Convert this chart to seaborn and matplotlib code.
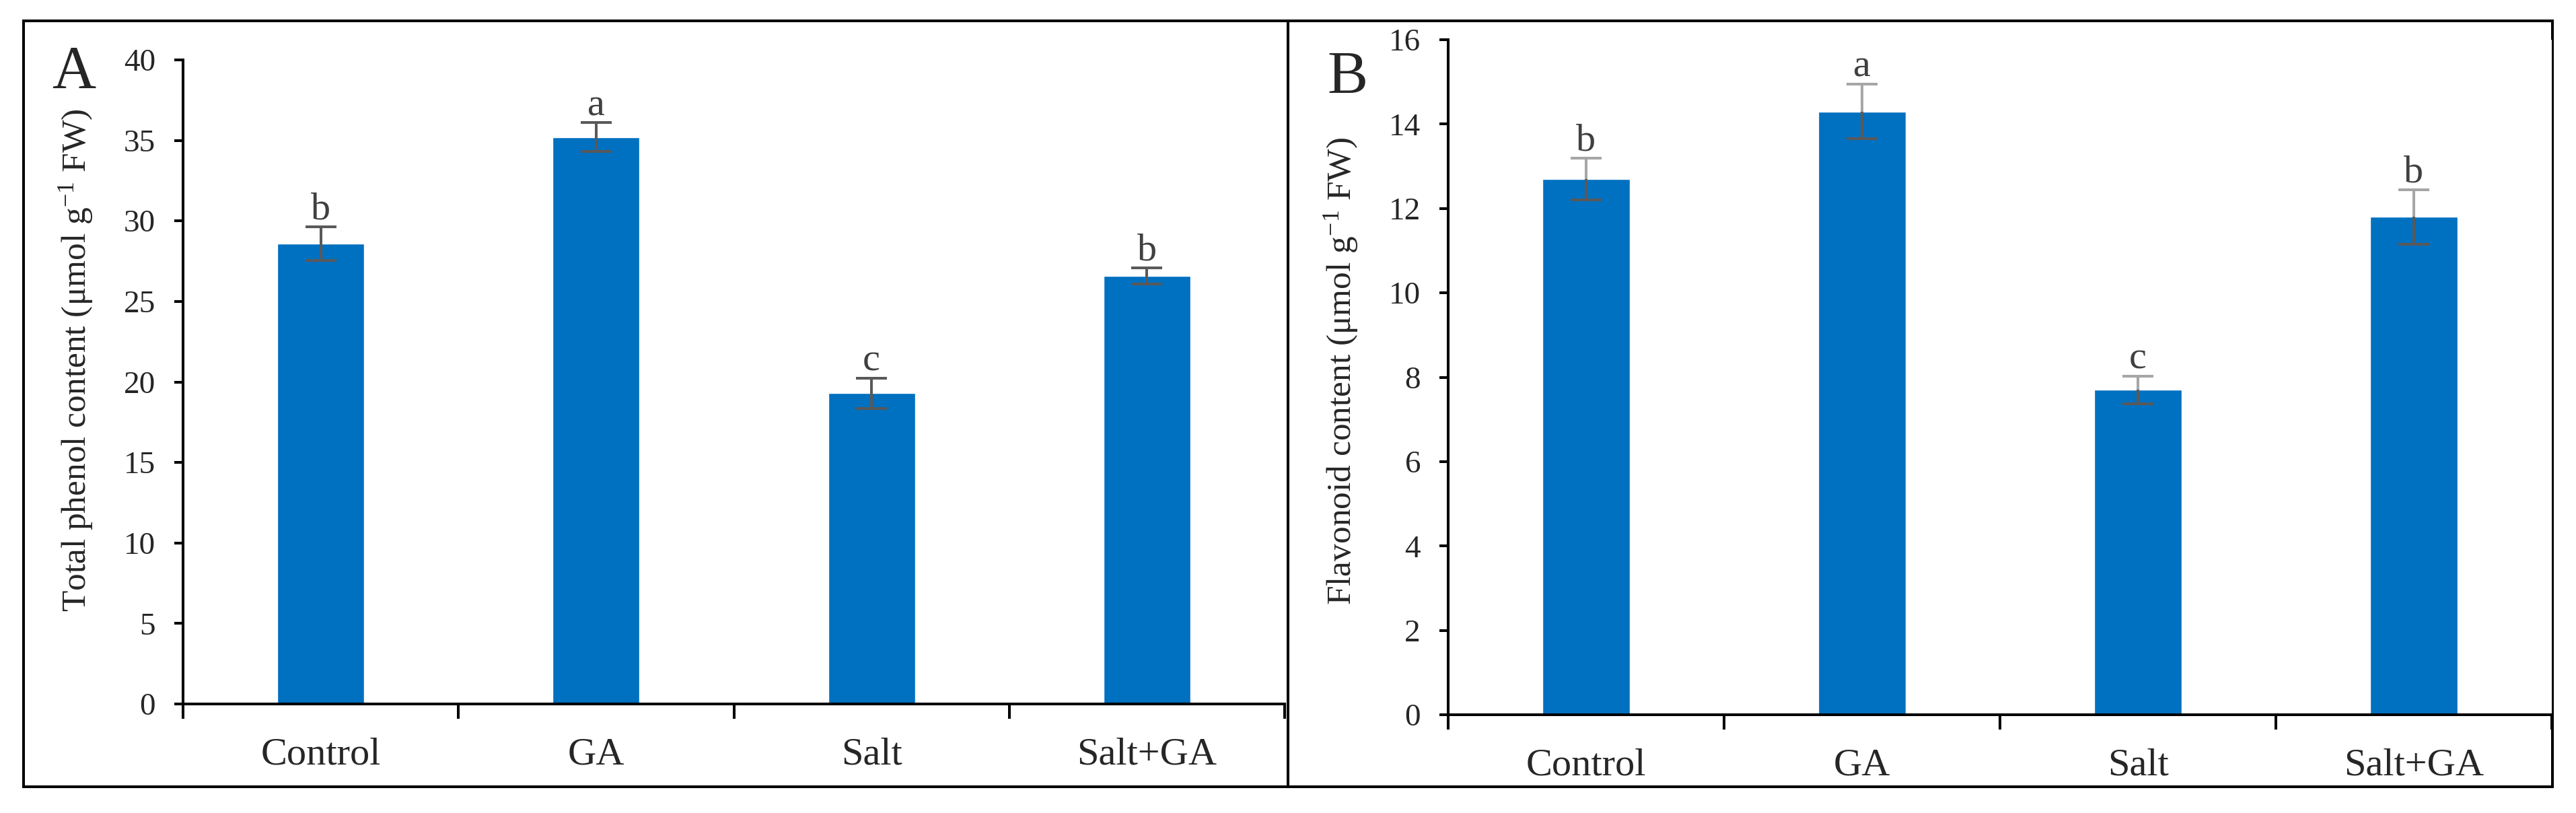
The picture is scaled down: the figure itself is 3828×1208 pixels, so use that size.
import numpy as np
import pandas as pd
import seaborn as sns
import matplotlib.pyplot as plt
from matplotlib.patches import Rectangle

sns.set_style("white")
plt.rcParams["font.family"] = ["Liberation Serif", "DejaVu Serif"]
plt.rcParams["mathtext.fontset"] = "custom"
plt.rcParams["mathtext.rm"] = "Liberation Serif"
plt.rcParams["mathtext.it"] = "Liberation Serif:italic"

# data -------------------------------------------------------------------------
treatments = ["Control", "GA", "Salt", "Salt+GA"]

phenol = [28.6, 35.2, 19.3, 26.6]
phenol_err = [1.05, 0.9, 0.95, 0.5]
phenol_sig = ["b", "a", "c", "b"]

flavonoid = [12.7, 14.3, 7.7, 11.8]
flavonoid_err = [0.5, 0.65, 0.33, 0.65]
flavonoid_sig = ["b", "a", "c", "b"]

BLUE = "#0070C0"
DARK = "#595959"
LIGHT = "#A6A6A6"
W, H = 3828, 1208
LW = 2.9

fig = plt.figure(figsize=(W / 100, H / 100), dpi=100)

# panel frames
for x0, x1 in [(35, 1914), (1914, 3793)]:
    fig.add_artist(Rectangle((x0 / W, 1 - 1169 / H), (x1 - x0) / W, (1169 - 31) / H,
                             transform=fig.transFigure, fill=False, lw=LW,
                             edgecolor="black", zorder=0))

def panel(rect, values, errs, sig, ymax, ystep, ylabel, tag, tagpos, lab_y, light_upper):
    ax = fig.add_axes(rect)
    df = pd.DataFrame({"Treatment": treatments, "Value": values})
    sns.barplot(data=df, x="Treatment", y="Value", color=BLUE, saturation=1,
                width=0.315, errorbar=None, ax=ax)
    xs = np.array([p.get_x() + p.get_width() / 2 for p in ax.patches])
    vals = np.array(values)
    errs = np.array(errs)
    zeros = np.zeros_like(errs)

    # lower half of error bar
    eb = ax.errorbar(xs, vals, yerr=[errs, zeros], fmt="none", ecolor=DARK,
                     elinewidth=LW, capsize=16.5, capthick=LW)
    # upper half (lighter stem in panel B, as in the original)
    eb2 = ax.errorbar(xs, vals, yerr=[zeros, errs], fmt="none",
                      ecolor=LIGHT if light_upper else DARK,
                      elinewidth=LW, capsize=16.5, capthick=LW)
    for c in list(eb[1]) + list(eb2[1]):
        c.set_color(DARK)
    eb[1][1].set_visible(False)
    eb2[1][0].set_visible(False)

    for x, v, e, s in zip(xs, vals, errs, sig):
        ax.annotate(s, (x, v + e), xytext=(0, 8), textcoords="offset points",
                    ha="center", va="baseline", fontsize=42, color="#404040")

    ax.set_xlim(-0.5, 3.5)
    ax.set_ylim(0, ymax)
    ax.set_yticks(np.arange(0, ymax + 0.01, ystep))
    ax.set_xticks(np.arange(-0.5, 4, 1), minor=True)
    ax.tick_params(axis="x", which="major", length=0, pad=36, labelsize=42)
    ax.tick_params(axis="x", which="minor", direction="out", length=16,
                   width=LW, color="black", bottom=True)
    ax.tick_params(axis="y", direction="out", length=9.5, width=LW,
                   pad=20, labelsize=34, left=True, color="black")
    for side in ["top", "right"]:
        ax.spines[side].set_visible(False)
    for side in ["left", "bottom"]:
        ax.spines[side].set_linewidth(LW)
        ax.spines[side].set_color("black")
    ax.set_xlabel("")
    ax.set_ylabel(ylabel, fontsize=37)
    ax.yaxis.label.set_va("center")
    ax.yaxis.set_label_coords(-0.097, lab_y)
    fig.text(tagpos[0] / W, 1 - tagpos[1] / H, tag, fontsize=65,
             ha="left", va="baseline")
    return ax

panel([272 / W, (H - 1046) / H, 1637 / W, 957 / H], phenol, phenol_err,
      phenol_sig, 40, 5, r"Total phenol content (μmol g$^{-1}$ FW)", "A",
      (77, 131), 0.534, False)
panel([2152 / W, (H - 1062) / H, 1640 / W, 1003 / H], flavonoid, flavonoid_err,
      flavonoid_sig, 16, 2, r"Flavonoid content (μmol g$^{-1}$ FW)", "B",
      (1972, 139), 0.509, True)

fig.savefig("out.png", dpi=100)
